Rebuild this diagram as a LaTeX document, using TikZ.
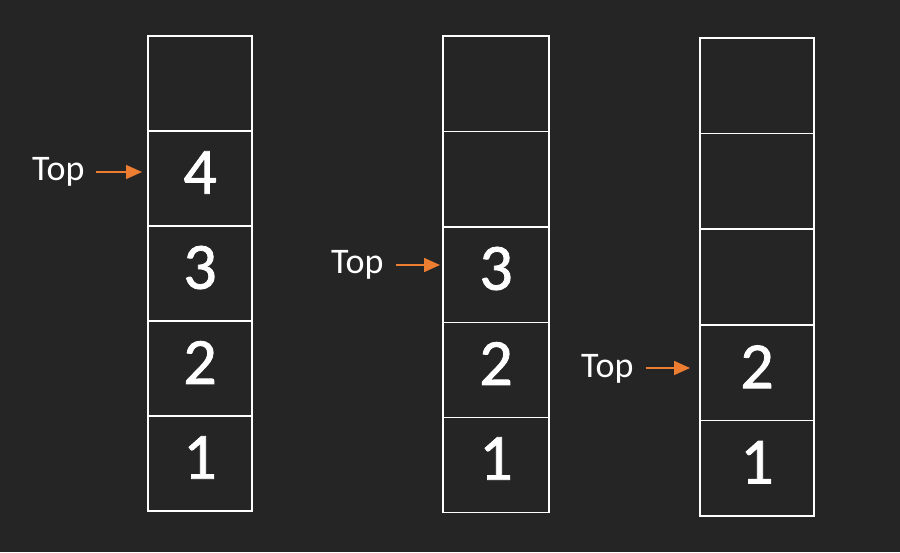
\documentclass[tikz,border=0pt]{standalone}
\usepackage{fontspec}
\setmainfont{Carlito}
\newfontfamily\digfont[FakeBold=1.2]{Carlito}
\usetikzlibrary{arrows.meta}
\definecolor{bg}{HTML}{252525}
\definecolor{arrorange}{HTML}{ED7D31}
\begin{document}
\begin{tikzpicture}[x=1pt,y=-1pt,
  cellbox/.style={draw=white,line width=1.4pt,fill=bg,inner sep=0pt,outer sep=0pt},
  digit/.style={text=white,font=\digfont\fontsize{66}{66}\selectfont,inner sep=0pt},
  toplbl/.style={text=white,font=\fontsize{36}{36}\selectfont,inner sep=0pt,anchor=base west},
  arr/.style={draw=arrorange,line width=1.6pt,-{Triangle[length=16pt,width=14pt]}}]
\fill[bg] (0,0) rectangle (900,552);
\useasboundingbox (0,0) rectangle (900,552);
% stack 1
\foreach \i/\t/\b in {1/416/511,2/321/416,3/226/321,4/131/226,5/36/131}{
  \node[cellbox,minimum width=104pt,minimum height=95pt] (a\i) at (200,{(\t+\b)/2}) {};
}
% stack 2
\foreach \i/\t/\b in {1/417/512,2/322/417,3/227/322,4/131.5/227,5/36/131.5}{
  \node[cellbox,minimum width=106pt,minimum height=95.5pt] (b\i) at (496,{(\t+\b)/2}) {};
}
% stack 3
\foreach \i/\t/\b in {1/420.5/516,2/325/420.5,3/229/325,4/133.3/229,5/38/133.3}{
  \node[cellbox,minimum width=114pt,minimum height=95.6pt] (c\i) at (757,{(\t+\b)/2}) {};
}
% digits
\node[digit] (d a1) at ([yshift=6pt]a1.center) {1};
\node[digit] (d a2) at ([yshift=6pt]a2.center) {2};
\node[digit] (d a3) at ([yshift=6pt]a3.center) {3};
\node[digit] (d a4) at ([yshift=6pt]a4.center) {4};
\node[digit] (d b1) at ([yshift=6pt]b1.center) {1};
\node[digit] (d b2) at ([yshift=6pt]b2.center) {2};
\node[digit] (d b3) at ([yshift=6pt]b3.center) {3};
\node[digit] (d c1) at ([yshift=6pt]c1.center) {1};
\node[digit] (d c2) at ([yshift=6pt]c2.center) {2};
% top labels
\node[toplbl] (t1) at (32,180) {Top};
\node[toplbl] (t2) at (331,273) {Top};
\node[toplbl] (t3) at (581,377) {Top};
\coordinate (e1) at (142,172);
\coordinate (e2) at (440,265);
\coordinate (e3) at (690,368);
\draw[arr] ([xshift=11pt]t1.east |- e1) -- (e1);
\draw[arr] ([xshift=12pt]t2.east |- e2) -- (e2);
\draw[arr] ([xshift=12pt]t3.east |- e3) -- (e3);
\end{tikzpicture}
\end{document}
